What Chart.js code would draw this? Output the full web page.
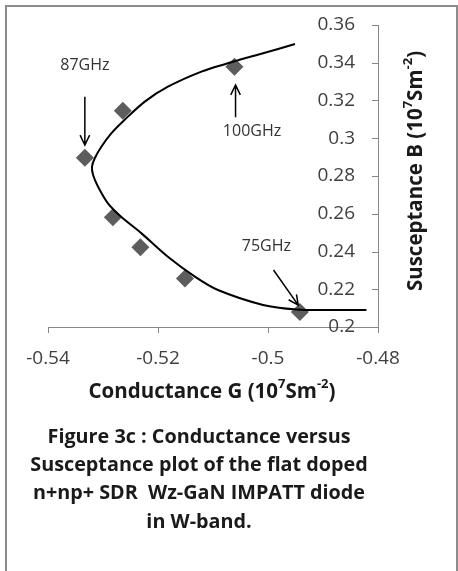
<!DOCTYPE html>
<html>
<head>
<meta charset="utf-8">
<script src="https://cdn.jsdelivr.net/npm/chart.js@4.4.1/dist/chart.umd.min.js"></script>
<style>
  body { margin: 0; background: #fff; }
  #wrap { width: 458px; height: 571px; position: relative; }
</style>
</head>
<body>
<div id="wrap"><canvas id="admittance" width="458" height="571"></canvas></div>
<script>
// Measured diamonds: conductance G vs susceptance B (10^7 S m^-2), 75 -> 100 GHz
const measuredG = [-0.4942, -0.5151, -0.5232, -0.5282, -0.5333, -0.5264, -0.5061];
const measuredB = [0.2080, 0.2257, 0.2422, 0.2581, 0.2897, 0.3146, 0.3379];

// Simulated curve, top to bottom
const curveG = [-0.4951, -0.5009, -0.5042, -0.5073, -0.5121, -0.5182, -0.5224, -0.5261,
                -0.5285, -0.5303, -0.5315, -0.5320, -0.5318, -0.5309, -0.5291, -0.5267,
                -0.5230, -0.5182, -0.5133, -0.5091, -0.5009, -0.4948, -0.4888, -0.4821];
const curveB = [0.3499, 0.3450, 0.3424, 0.3397, 0.3353, 0.3273, 0.3194, 0.3097,
                0.3026, 0.2955, 0.2894, 0.2849, 0.2805, 0.2743, 0.2655, 0.2584,
                0.2496, 0.2372, 0.2267, 0.2196, 0.2117, 0.2093, 0.2090, 0.2090];

// Axis ticks
const xTicks = [-0.54, -0.52, -0.5, -0.48];
const xTickLabels = ['-0.54', '-0.52', '-0.5', '-0.48'];
const yTicks = [0.2, 0.22, 0.24, 0.26, 0.28, 0.3, 0.32, 0.34, 0.36];
const yTickLabels = ['0.2', '0.22', '0.24', '0.26', '0.28', '0.3', '0.32', '0.34', '0.36'];

// Frequency call-outs (text anchor and arrow, in data units)
const freqLabels = ['87GHz', '100GHz', '75GHz'];
const freqTextG = [-0.5333, -0.5029, -0.5003];
const freqTextB = [0.3388, 0.3038, 0.2425];
const arrowFromG = [-0.5333, -0.5059, -0.4990];
const arrowFromB = [0.3220, 0.3111, 0.2302];
const arrowToG = [-0.5333, -0.5059, -0.4945];
const arrowToB = [0.2964, 0.3282, 0.2116];

const xTitle = [{ t: 'Conductance G (10' }, { t: '7', sup: true }, { t: 'Sm' }, { t: '-2', sup: true }, { t: ')' }];
const yTitle = [{ t: 'Susceptance B (10' }, { t: '7', sup: true }, { t: 'Sm' }, { t: '-2', sup: true }, { t: ')' }];
const captionLines = [
    'Figure 3c : Conductance versus',
    'Susceptance plot of the flat doped',
    'n+np+ SDR  Wz-GaN IMPATT diode',
    'in W-band.'
];

const AXIS_GREY = '#868686';
const BOLD_FAMILY = '"Open Sans"';

// Draws text with superscript parts, centred on (cx, cy)
function drawRich(ctx, parts, cx, cy, size) {

    const supSize = Math.round(size * 0.62);
    let total = 0;
    parts.forEach(p => {
        ctx.font = `bold ${p.sup ? supSize : size}px ${BOLD_FAMILY}`;
        p.w = ctx.measureText(p.t).width;
        total += p.w;
    });
    let x = cx - total / 2;
    ctx.textAlign = 'left';
    ctx.textBaseline = 'middle';
    parts.forEach(p => {
        ctx.font = `bold ${p.sup ? supSize : size}px ${BOLD_FAMILY}`;
        ctx.fillText(p.t, x, p.sup ? cy - size * 0.36 : cy);
        x += p.w;
    });
}

function drawArrow(ctx, x1, y1, x2, y2) {

    const head = 11;
    const ang = Math.atan2(y2 - y1, x2 - x1);
    ctx.beginPath();
    ctx.moveTo(x1, y1);
    ctx.lineTo(x2, y2);
    ctx.moveTo(x2 - head * Math.cos(ang - 0.45), y2 - head * Math.sin(ang - 0.45));
    ctx.lineTo(x2, y2);
    ctx.lineTo(x2 - head * Math.cos(ang + 0.45), y2 - head * Math.sin(ang + 0.45));
    ctx.stroke();
}

const decorPlugin = {
    id: 'decor',
    afterDraw(chart) {

        const ctx = chart.ctx;
        const xs = chart.scales.x;
        const ys = chart.scales.y;
        const area = chart.chartArea;
        ctx.save();

        // frame round the figure
        ctx.strokeStyle = '#8c8c8c';
        ctx.lineWidth = 2;
        ctx.beginPath();
        ctx.moveTo(6, 571);
        ctx.lineTo(6, 6);
        ctx.lineTo(457, 6);
        ctx.lineTo(457, 571);
        ctx.stroke();

        // tick marks
        ctx.strokeStyle = AXIS_GREY;
        ctx.lineWidth = 1;
        ctx.beginPath();
        xTicks.forEach(v => {
            const px = Math.round(xs.getPixelForValue(v)) + 0.5;
            ctx.moveTo(px, area.bottom);
            ctx.lineTo(px, area.bottom + 6);
        });
        yTicks.forEach(v => {
            const py = Math.round(ys.getPixelForValue(v)) + 0.5;
            ctx.moveTo(area.right, py);
            ctx.lineTo(area.right - 6, py);
        });
        ctx.stroke();

        // call-outs
        ctx.strokeStyle = '#000';
        ctx.lineWidth = 1.5;
        ctx.fillStyle = '#333';
        ctx.font = '16px "Open Sans"';
        ctx.textAlign = 'center';
        ctx.textBaseline = 'middle';
        freqLabels.forEach((txt, i) => {
            ctx.fillText(txt, xs.getPixelForValue(freqTextG[i]), ys.getPixelForValue(freqTextB[i]));
            drawArrow(ctx,
                xs.getPixelForValue(arrowFromG[i]), ys.getPixelForValue(arrowFromB[i]),
                xs.getPixelForValue(arrowToG[i]), ys.getPixelForValue(arrowToB[i]));
        });

        // axis titles
        ctx.fillStyle = '#1a1a1a';
        drawRich(ctx, xTitle, 212, 392, 20.5);
        ctx.save();
        ctx.translate(416, 171);
        ctx.rotate(-Math.PI / 2);
        drawRich(ctx, yTitle, 0, 0, 20.5);
        ctx.restore();

        // caption
        ctx.font = `bold 19.8px ${BOLD_FAMILY}`;
        ctx.textAlign = 'center';
        ctx.textBaseline = 'middle';
        captionLines.forEach((line, i) => {
            ctx.fillText(line, 199, 437 + i * 28.3);
        });

        ctx.restore();
    }
};

function initializeChart() {

    const ctx = document.getElementById('admittance').getContext('2d');

    new Chart(ctx, {
        type: 'scatter',
        data: {
            datasets: [{
                label: 'Simulated',
                data: curveG.map((g, i) => ({ x: g, y: curveB[i] })),
                showLine: true,
                tension: 0.3,
                borderColor: '#000',
                borderWidth: 2,
                pointRadius: 0,
                fill: false
            }, {
                label: 'Measured',
                data: measuredG.map((g, i) => ({ x: g, y: measuredB[i] })),
                pointStyle: 'rectRot',
                pointRadius: 9,
                pointBackgroundColor: '#5d5d5d',
                pointBorderColor: '#5d5d5d',
                pointBorderWidth: 0
            }]
        },
        options: {
            responsive: false,
            animation: false,
            events: [],
            layout: { padding: { left: 48, top: 25, right: 0, bottom: 0 } },
            plugins: {
                legend: { display: false },
                tooltip: { enabled: false }
            },
            scales: {
                x: {
                    type: 'linear',
                    position: 'bottom',
                    min: -0.54,
                    max: -0.48,
                    afterBuildTicks: s => { s.ticks = xTicks.map(v => ({ value: v })); },
                    afterFit: s => { s.height = 244; s.paddingLeft = 0; s.paddingRight = 0; },
                    grid: { display: false, drawTicks: false },
                    border: { display: true, color: AXIS_GREY, width: 1 },
                    ticks: {
                        padding: 20,
                        color: '#404040',
                        font: { family: 'Open Sans', size: 19 },
                        maxRotation: 0,
                        callback: v => xTickLabels[xTicks.indexOf(v)]
                    }
                },
                y: {
                    type: 'linear',
                    position: 'right',
                    min: 0.2,
                    max: 0.36,
                    afterBuildTicks: s => { s.ticks = yTicks.map(v => ({ value: v })); },
                    afterFit: s => { s.width = 80; s.paddingTop = 0; s.paddingBottom = 0; },
                    grid: { display: false, drawTicks: false },
                    border: { display: true, color: AXIS_GREY, width: 1 },
                    ticks: {
                        mirror: true,
                        padding: -23,
                        color: '#404040',
                        font: { family: 'Open Sans', size: 19 },
                        callback: v => yTickLabels[yTicks.indexOf(v)]
                    }
                }
            }
        },
        plugins: [decorPlugin]
    });
}

window.onload = function () {

    initializeChart();
};
</script>
</body>
</html>
